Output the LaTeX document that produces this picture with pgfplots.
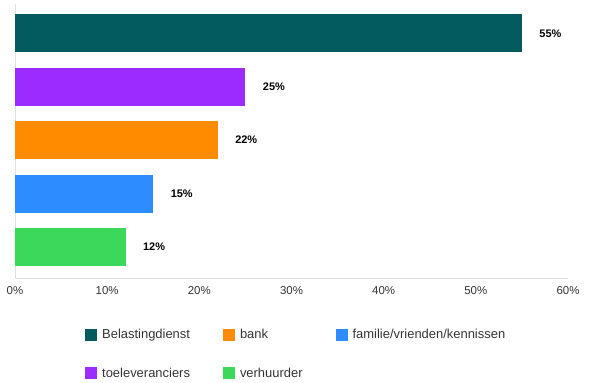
\documentclass[border=0pt]{standalone}
\usepackage{pgfplots}
\pgfplotsset{compat=1.18}
\usepackage{fontspec}
\setmainfont{Liberation Sans}
\definecolor{cBel}{HTML}{045B5F}
\definecolor{cToe}{HTML}{9B2BFF}
\definecolor{cBank}{HTML}{FF8C00}
\definecolor{cFam}{HTML}{2D8CFF}
\definecolor{cVer}{HTML}{3BD85B}
\definecolor{axgray}{HTML}{E0E0E0}
\definecolor{txt}{HTML}{333333}
\begin{document}
\begin{tikzpicture}[x=1bp,y=1bp]
\useasboundingbox (0,0) rectangle (600,382);
\begin{axis}[
  at={(15bp,104bp)}, anchor=south west,
  scale only axis, width=553bp, height=274bp,
  xbar, bar shift=0pt, bar width=38bp,
  xmin=0, xmax=60, ymin=0.42, ymax=5.55,
  axis x line*=bottom, axis y line*=left,
  axis line style={axgray, line width=0.8pt},
  xtick={0,10,20,30,40,50,60},
  xticklabel={\pgfmathprintnumber{\tick}\%},
  xticklabel style={font=\fontsize{11.5}{13}\selectfont, text=txt, yshift=-5bp},
  /pgf/number format/assume math mode=true,
  major tick length=0pt,
  ytick=\empty,
  nodes near coords={\pgfmathprintnumber{\pgfplotspointmeta}\%},
  nodes near coords style={font=\bfseries\fontsize{11}{13}\selectfont, text=black, anchor=west, xshift=14bp},
  legend columns=3,
  legend cell align=left,
  legend style={at={(67bp,-47bp)}, anchor=north west, draw=none, fill=none,
    font=\fontsize{13}{15}\selectfont, text=txt,
    row sep=24bp,
    /tikz/every odd column/.append style={column sep=3bp},
    /tikz/every even column/.append style={column sep=31bp}},
  legend image code/.code={\fill[#1] (0bp,-6bp) rectangle (12bp,6bp);},
]
\addplot[draw=none, fill=cBel] coordinates {(55,5)};
\addlegendentry{Belastingdienst}
\addplot[draw=none, fill=cBank] coordinates {(22,3)};
\addlegendentry{bank}
\addplot[draw=none, fill=cFam] coordinates {(15,2)};
\addlegendentry{familie/vrienden/kennissen}
\addplot[draw=none, fill=cToe] coordinates {(25,4)};
\addlegendentry{toeleveranciers}
\addplot[draw=none, fill=cVer] coordinates {(12,1)};
\addlegendentry{verhuurder}
\end{axis}
\end{tikzpicture}
\end{document}
